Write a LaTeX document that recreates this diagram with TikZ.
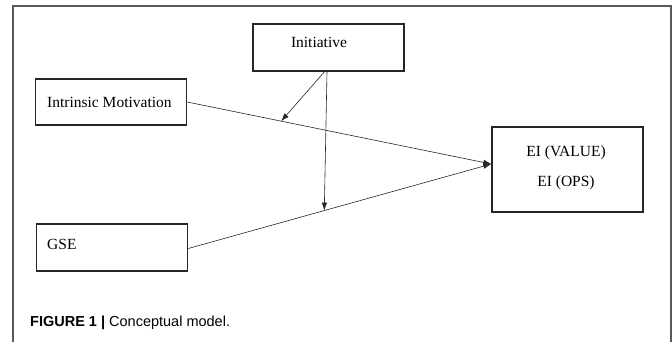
\documentclass[tikz,border=0pt]{standalone}
\usepackage{fontspec}
\setmainfont{Liberation Serif}
\newfontfamily\capfont{Liberation Sans}
\usetikzlibrary{arrows.meta,positioning,calc}

\begin{document}
\begin{tikzpicture}[
    x=1pt, y=-1pt,
    box/.style={draw=black!85, line width=1.4pt, minimum width=151pt, inner sep=0pt},
    txt/.style={inner sep=0pt, font=\fontsize{15.5}{19}\selectfont},
    edge/.style={-{Latex[length=8pt,width=5.5pt]}, line width=0.6pt, black!85},
    frame/.style={draw=black!65, line width=1.2pt}
]
    \useasboundingbox (0,0) rectangle (672,342);

    % Outer frame
    \draw[frame] (13,342) |- (671,6) -- (671,342);

    % Boxes
    \node[box, minimum height=47pt] (init) at (328.5,47.5) {};
    \node[box, minimum height=46pt] (im) at (111,102) {};
    \node[box, minimum height=47pt] (gse) at (112,247.5) {};
    \node[box, minimum height=85pt] (ei) at (567.5,169.5) {};

    % Labels
    \node[txt, anchor=base] (initT) at (319,48) {Initiative};
    \node[txt, anchor=base west] (imT) at (47,108) {Intrinsic Motivation};
    \node[txt, anchor=base west] (gseT) at (47,249) {GSE};
    \node[txt, anchor=base] (eiA) at (566,157) {EI (VALUE)};
    \node[txt, anchor=base] (eiB) at (566,186) {EI (OPS)};

    % Direct paths
    \coordinate (eiIn) at ([yshift=5.5pt]ei.west);
    \draw[edge] (im.east) -- (eiIn);
    \draw[edge] ([yshift=-1pt]gse.east) -- (eiIn);

    % Moderation
    \coordinate (m1) at ($(im.east)!0.309!(eiIn)$);
    \coordinate (m2) at ($([yshift=-1pt]gse.east)!0.449!(eiIn)$);
    \draw[edge] ([xshift=-4pt]init.south) -- (m1);
    \draw[edge] ([xshift=-1.5pt]init.south) -- (m2);

    % Caption
    \node[anchor=base west, inner sep=0pt, font=\capfont\fontsize{14.5}{18}\selectfont] (cap) at (30,326)
        {\textbf{FIGURE 1 |} Conceptual model.};
\end{tikzpicture}
\end{document}
